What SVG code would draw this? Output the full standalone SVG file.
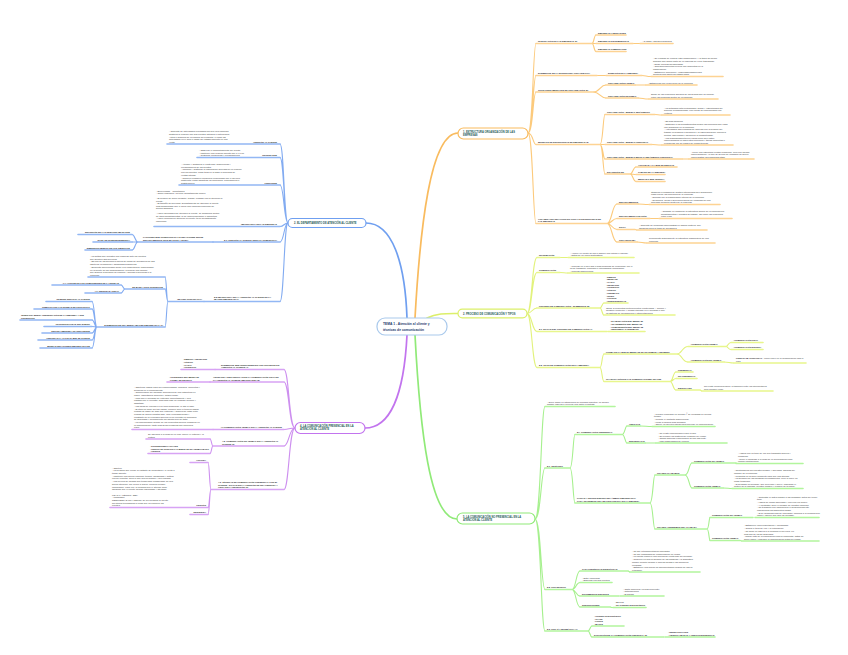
<svg xmlns="http://www.w3.org/2000/svg" width="848" height="655" viewBox="0 0 848 655">
<style>
text{font-family:"Liberation Sans",Arial,sans-serif}
.l{font-size:2.15px;font-weight:bold;fill:#1a1a1a}
.d{font-size:2.3px;fill:#3a3a3a}
.n{font-size:2.6px;font-weight:bold;fill:#1e5a55}
.c{font-size:3.3px;font-weight:bold;fill:#1d3a6b}
.e{text-anchor:end}
.uo,.uy,.ug,.ub,.up{fill:none;stroke-width:1.6;stroke-linecap:round}
.uo{stroke:#fdd393}.uy{stroke:#e8f68c}.ug{stroke:#b2f59d}.ub{stroke:#92b7f4}.up{stroke:#d7a3f4}
.co,.cy,.cg,.cb,.cp{fill:none;stroke-width:1.1}
.co{stroke:#fcca7c}.cy{stroke:#e2f27c}.cg{stroke:#a6f08e}.cb{stroke:#82abf1}.cp{stroke:#cd8fef}
.m{fill:none;stroke-width:1.7;stroke-linecap:round}
</style>

<g id="connectors">
<path class="m" stroke="#6f9ff0" d="M407,318 C405,262 392,223 366,223"/>
<path class="m" stroke="#f9bb5e" d="M415,318 C420,230 430,133 458,133"/>
<path class="m" stroke="#dcef6a" d="M427,318 C437,313 447,313.5 458,313.5"/>
<path class="m" stroke="#c274ee" d="M407,335 C404,395 390,428 365,428"/>
<path class="m" stroke="#90ea78" d="M415,335 C420,430 430,519 457,519"/>

<path class="co" stroke-width="1.4" d="M528,133 C533,133 533,43.5 536,43.5 M528,133 C533,133 533,75.5 536,75.5 M528,133 C533,133 533,92 536,92 M528,133 C533,133 533,144.5 536,144.5 M528,133 C533,133 533,223.5 536,223.5"/>
<path class="co" d="M592,43.5 C594,43.5 594,35 596,35 M592,43.5 L596,43.5 M592,43.5 C594,43.5 594,51.5 596,51.5 M633,43.5 L640,43.5 M597,75.5 L606,75.5 M642,75.5 C646,75.5 646,76.5 651,76.5 M593,92 C600,92 600,85 606,85 M593,92 C600,92 600,98 606,98 M635,85 L646,85 M638,98 C643,98 643,99 649,99"/>
<path class="co" d="M600,144.5 C603,144.5 603,114.5 605,114.5 M600,144.5 L605,144.5 M600,144.5 C603,144.5 603,159 605,159 M600,144.5 C603,144.5 603,174 605,174 M655,114.5 C658,114.5 658,115 662,115 M652,144.5 C656,144.5 656,145 662,145 M682,159 L689,159 M630,174 C633,174 633,167 636,167 M630,174 C633,174 633,174.5 636,174.5 M630,174 C633,174 633,181.5 636,181.5"/>
<path class="co" d="M607,223.5 C612,223.5 612,204 617,204 M607,223.5 C612,223.5 612,218.5 617,218.5 M607,223.5 C612,223.5 612,229.5 617,229.5 M607,223.5 C612,223.5 612,242 617,242 M638,204 C643,204 643,204.5 649,204.5 M650,218.5 L659,218.5 M635,229.5 C636,229.5 636,230 637,230 M637,242 C642,242 642,243 647,243"/>

<path class="cy" stroke-width="1.4" d="M527,313.5 C532,313.5 532,257.5 537,257.5 M527,313.5 C532,313.5 532,272.5 537,272.5 M527,313.5 C532,313.5 532,308 537,308 M527,313.5 C532,313.5 532,331.5 537,331.5 M527,313.5 C532,313.5 532,367.5 537,367.5"/>
<path class="cy" d="M560,257.5 L568,257.5 M560,272.5 C564,272.5 564,273 568,273 M600,308 C602,308 602,303 604,303 M600,308 C602,308 602,315 604,315 M600,367.5 C602,367.5 602,354 604,354 M600,367.5 C602,367.5 602,381.5 604,381.5 M677,354 C682,354 682,346.5 688,346.5 M677,354 C682,354 682,362 688,362 M726,346.5 C728,346.5 728,342.5 731,342.5 M726,346.5 C728,346.5 728,349.5 731,349.5 M724,362 C729,362 729,363 734,363 M670,381.5 C673,381.5 673,372 676,372 M670,381.5 C673,381.5 673,378.5 676,378.5 M670,381.5 C673,381.5 673,390 676,390 M700,390 C701,390 701,391 702,391"/>

<path class="cg" stroke-width="1.4" d="M535,519 C541,519 541,406.5 545,406.5 M535,519 C541,519 541,468 545,468 M535,519 C541,519 541,589.5 545,589.5 M535,519 C541,519 541,631 545,631"/>
<path class="cg" d="M570,468 C573,468 573,434.5 575,434.5 M570,468 C573,468 573,503 575,503 M622,434.5 C625,434.5 625,426 627,426 M622,434.5 C625,434.5 625,443 627,443 M640,426 C646,426 646,426.5 652,426.5 M645,443 L656,443 M650,503 C653,503 653,475 655,475 M650,503 C653,503 653,529 655,529 M685,475 C689,475 689,463 692,463 M685,475 C689,475 689,488 692,488 M723,488 C728,488 728,488.5 732,488.5 M707,529 C709,529 709,517.5 710,517.5 M707,529 C709,529 709,540.5 710,540.5 M740,540.5 C741,540.5 741,541 742,541"/>
<path class="cg" d="M572,589.5 C576,589.5 576,571 580,571 M572,589.5 C576,589.5 576,582.5 580,582.5 M572,589.5 C576,589.5 576,596 580,596 M572,589.5 C576,589.5 576,607 580,607 M628,571 C629,571 629,572 630,572 M618,596 L621,596 M610,607 C611,607 611,607.5 613,607.5 M588,631 C590,631 590,626 592,626 M588,631 C590,631 590,637 592,637 M663,637 L666,637"/>

<path class="cb" stroke-width="1.4" d="M288,223 C284,223 284,144 280,144 M288,223 C284,223 284,157.5 280,157.5 M288,223 C284,223 284,185 280,185 M288,223 C284,223 284,226.5 280,226.5 M288,223 C284,223 284,242 280,242 M288,223 C284,223 284,301.5 280,301.5"/>
<path class="cb" d="M138,242 C135,242 135,234.5 132,234.5 M138,242 L132,242 M138,242 C135,242 135,250 132,250 M168,301.5 C166.5,301.5 166.5,277 165,277 M168,301.5 C166.5,301.5 166.5,289 165,289 M168,301.5 C166.5,301.5 166.5,327 165,327 M125,289 C123,289 123,285 121,285 M125,289 C123,289 123,293 121,293"/>
<path class="cb" d="M97,327 C94.5,327 94.5,301.5 92,301.5 M97,327 C94.5,327 94.5,309 92,309 M97,327 C94.5,327 94.5,320 92,320 M97,327 C94.5,327 94.5,326.5 92,326.5 M97,327 C94.5,327 94.5,333 92,333 M97,327 C94.5,327 94.5,340 92,340 M97,327 C94.5,327 94.5,348 92,348"/>

<path class="cp" stroke-width="1.4" d="M295,428 C289,428 289,369.5 284,369.5 M295,428 C289,428 289,382 284,382 M295,428 C289,428 289,429.5 284,429.5 M295,428 C289,428 289,446 284,446 M295,428 C289,428 289,489.5 284,489.5"/>
<path class="cp" d="M213,446 C211.5,446 211.5,439 210,439 M213,446 C211.5,446 211.5,453.5 210,453.5 M211,489.5 C209.5,489.5 209.5,462.5 208,462.5 M211,489.5 C209.5,489.5 209.5,507.5 208,507.5 M211,489.5 C209.5,489.5 209.5,514.5 208,514.5"/>
</g>

<g id="center">
<rect x="377" y="318" width="70" height="17" rx="8" fill="#fff" stroke="#a9c9ec" stroke-width="1.2"/>
<text class="c" x="383" y="325.3">TEMA 1 - Atención al cliente y</text>
<text class="c" x="383" y="330.6">técnicas de comunicación</text>
</g>

<!-- Branch 1 orange -->
<g id="b1">
<rect x="458" y="128" width="70" height="11" rx="5.5" fill="#fff" stroke="#f9bb5e" stroke-width="1.2"/>
<text class="n" x="463" y="132.6">1. ESTRUCTURA ORGANIZACIÓN DE LAS</text>
<text class="n" x="463" y="135.8">EMPRESAS</text>
</g>
<g id="b1-integracion"><path class="uo" d="M536 43.5H592"/><text class="l" x="538" y="42.4">INTEGRACIÓN DE LAS EMPRESAS (3)</text></g>
<g id="b1-fabricantes"><path class="uo" d="M596 35H626"/><text class="l" x="598" y="33.9">EMPRESAS FABRICANTES</text></g>
<g id="b1-distribuidoras"><path class="uo" d="M596 43.5H633"/><text class="l" x="598" y="42.4">EMPRESAS DISTRIBUIDORAS</text></g>
<g id="b1-cadena"><path class="uo" d="M640 43.5H673"/><text class="d" x="642" y="42.4">- CADENA DE SUMINISTRO</text></g>
<g id="b1-comerciales"><path class="uo" d="M596 51.5H626"/><text class="l" x="598" y="50.4">EMPRESAS COMERCIALES</text></g>
<g id="b1-elementos"><path class="uo" d="M536 75.5H597"/><text class="l" x="538" y="74.4">ELEMENTOS DE LA ESTRUCTURA ORGANIZATIVA</text></g>
<g id="b1-direccion"><path class="uo" d="M606 75.5H642"/><text class="l" x="608" y="74.4">DIRECCIÓN DE LA EMPRESA</text></g>
<g id="b1-direccion-d"><path class="uo" d="M651 76.5H723"/><text class="d" y="59.2"><tspan x="653">- Se encarga de realizar esta organización, y la toma del grupo</tspan><tspan x="653" dy="2.7">humano que forma parte de la empresa se viene trabajando.</tspan><tspan x="653" dy="2.7">- Dirige fuerzas mecanizadas.</tspan><tspan x="653" dy="2.7">- Coordina diferentes niveles con aumentos en la</tspan><tspan x="653" dy="2.7">organización.</tspan><tspan x="653" dy="2.7">- Establecer funciones y responsabilidades para</tspan><tspan x="653" dy="2.7">alcanzar sus objetivos establecidos.</tspan></text></g>
<g id="b1-tipos"><path class="uo" d="M536 92H593"/><text class="l" x="538" y="90.9">TIPOS FUNDAMENTALES DE ORGANIZACIÓN (2)</text></g>
<g id="b1-formal"><path class="uo" d="M606 85H635"/><text class="l" x="608" y="83.9">ORGANIZACIÓN FORMAL</text></g>
<g id="b1-formal-d"><path class="uo" d="M646 85H697"/><text class="d" x="648" y="83.9">- Establecida por la dirección de la empresa</text></g>
<g id="b1-informal"><path class="uo" d="M606 98H638"/><text class="l" x="608" y="96.9">ORGANIZACIÓN INFORMAL</text></g>
<g id="b1-informal-d"><path class="uo" d="M649 99H718"/><text class="d" y="95.2"><tspan x="651">Surge de las relaciones sociales de los grupos que se forman</tspan><tspan x="651" dy="2.7">entre las personas dentro de la empresa</tspan></text></g>
<g id="b1-modelos"><path class="uo" d="M536 144.5H600"/><text class="l" x="538" y="143.4">MODELOS DE ESTRUCTURAS DE EMPRESAS (3)</text></g>
<g id="b1-jerarquico"><path class="uo" d="M605 114.5H655"/><text class="l" x="607" y="113.4">ORGANIZACIÓN - MODELO JERÁRQUICO</text></g>
<g id="b1-jerarquico-d"><path class="uo" d="M662 115H730"/><text class="d" y="108.5"><tspan x="664">- La autoridad está centralizada, desde y estructurada del</tspan><tspan x="664" dy="2.7">superior al subordinado, con líneas de comunicación por</tspan><tspan x="664" dy="2.7">vértices</tspan></text></g>
<g id="b1-funcional"><path class="uo" d="M605 144.5H652"/><text class="l" x="607" y="143.4">ORGANIZACIÓN - MODELO FUNCIONAL</text></g>
<g id="b1-funcional-d"><path class="uo" d="M662 145H733"/><text class="d" y="122.3"><tspan x="664">- Es más moderna</tspan><tspan x="664" dy="2.7">- Distingue a los departamentos según las funciones que cada</tspan><tspan x="664" dy="2.7">uno desarrolla en la empresa.</tspan><tspan x="664" dy="2.7">- Actividades diferenciadas de acuerdo con la división del</tspan><tspan x="664" dy="2.7">trabajo en bloques o funciones y la especialización: mayores</tspan><tspan x="664" dy="2.7">peritos, diferencias y mejora de la productividad.</tspan><tspan x="664" dy="2.7">- Los subordinados tienen varios jefes (que están</tspan><tspan x="664" dy="2.7">especializados en diferentes funciones y tareas concretas o</tspan><tspan x="664" dy="2.7">exclusivas) por su campo de competencias.</tspan></text></g>
<g id="b1-mixto"><path class="uo" d="M605 159H682"/><text class="l" x="607" y="157.9">ORGANIZACIÓN - MODELO MIXTO O JERÁRQUICO-FUNCIONAL</text></g>
<g id="b1-mixto-d"><path class="uo" d="M689 159H754"/><text class="d" y="152.5"><tspan x="691">- Tiene una estructura central jerárquica, pero con mucha</tspan><tspan x="691" dy="2.7">especialización, ya que se servirá de unidades de apoyo</tspan><tspan x="691" dy="2.7">especialistas (denominados staff)</tspan></text></g>
<g id="b1-enfuncion"><path class="uo" d="M605 174H630"/><text class="l" x="607" y="172.9">EN FUNCIÓN DE</text></g>
<g id="b1-actividad"><path class="uo" d="M636 167H677"/><text class="l" x="638" y="165.9">ACTIVIDAD A LA QUE SE DEDICAN</text></g>
<g id="b1-tamano"><path class="uo" d="M636 174.5H665"/><text class="l" x="638" y="173.4">TAMAÑO DE LA EMPRESA</text></g>
<g id="b1-mercado"><path class="uo" d="M636 181.5H665"/><text class="l" x="638" y="180.4">MERCADO QUE PERSIGA</text></g>
<g id="b1-vocabulario"><path class="uo" d="M536 223.5H607"/><text class="l" y="219.7"><tspan x="538">VOCABULARIO RELACIONADO CON LAS ESTRUCTURAS DE</tspan><tspan x="538" dy="2.7">LAS EMPRESAS</tspan></text></g>
<g id="b1-departamentos"><path class="uo" d="M617 204H638"/><text class="l" x="619" y="202.9">DEPARTAMENTOS</text></g>
<g id="b1-departamentos-d"><path class="uo" d="M649 204.5H720"/><text class="d" y="192.6"><tspan x="651">Órganos o unidades de gestión intermedios que desarrollan</tspan><tspan x="651" dy="2.7">cada una de las funciones de la empresa.</tspan><tspan x="651" dy="2.7">- Definido por la organización interna de la empresa.</tspan><tspan x="651" dy="2.7">- Divisiones, áreas o secciones donde se encargan de una</tspan><tspan x="651" dy="2.7">actividad concreta dentro de la empresa</tspan></text></g>
<g id="b1-departamentalizacion"><path class="uo" d="M617 218.5H650"/><text class="l" x="619" y="217.4">DEPARTAMENTALIZACIÓN</text></g>
<g id="b1-departamentalizacion-d"><path class="uo" d="M659 218.5H732"/><text class="d" y="212"><tspan x="661">- Consiste en organizar la estructura formal de la empresa por</tspan><tspan x="661" dy="2.7">departamentos y puestos de trabajo, así como las relaciones</tspan><tspan x="661" dy="2.7">entre ellos</tspan></text></g>
<g id="b1-staff"><path class="uo" d="M617 229.5H635"/><text class="l" x="619" y="228.4">STAFF</text></g>
<g id="b1-staff-d"><path class="uo" d="M637 230H707"/><text class="d" y="226.2"><tspan x="639">- Conjunto de personas especialistas en alguna materia, que</tspan><tspan x="639" dy="2.7">asesoran para la toma de decisiones</tspan></text></g>
<g id="b1-organigrama"><path class="uo" d="M617 242H637"/><text class="l" x="619" y="240.9">ORGANIGRAMA</text></g>
<g id="b1-organigrama-d"><path class="uo" d="M647 243H715"/><text class="d" y="239.2"><tspan x="649">Representa gráficamente la estructura organizativa de una</tspan><tspan x="649" dy="2.7">empresa</tspan></text></g>

<!-- Branch 2 yellow -->
<g id="b2">
<rect x="458" y="309.2" width="69" height="8.6" rx="4.3" fill="#fff" stroke="#dcef6a" stroke-width="1.2"/>
<text class="n" x="463" y="314.5">2. PROCESO DE COMUNICACIÓN Y TIPOS</text>
</g>
<g id="b2-informacion"><path class="uy" d="M537 257.5H560"/><text class="l" x="539" y="256.4">INFORMACIÓN</text></g>
<g id="b2-informacion-d"><path class="uy" d="M568 257.5H634"/><text class="d" y="253.7"><tspan x="570">- Acción y/o efecto de dar a alguien una noticia o informe.</tspan><tspan x="570" dy="2.7">- Datos de un único destinatario</tspan></text></g>
<g id="b2-comunicacion"><path class="uy" d="M537 272.5H560"/><text class="l" x="539" y="271.4">COMUNICACIÓN</text></g>
<g id="b2-comunicacion-d"><path class="uy" d="M568 273H639"/><text class="d" y="266.5"><tspan x="570">- Proceso en el que dos o más personas se relacionan, por el</tspan><tspan x="570" dy="2.7">fin de transmitir, compartir o intercambiar información.</tspan><tspan x="570" dy="2.7">- Proceso bidireccional</tspan></text></g>
<g id="b2-proceso"><path class="uy" d="M537 308H600"/><text class="l" x="539" y="306.9">PROCESO DE COMUNICACIÓN - ELEMENTOS (8)</text></g>
<g id="b2-proceso-lista"><path class="uy" d="M604 303H628"/><text class="l" y="277.6"><tspan x="606">- EMISOR</tspan><tspan x="606" dy="2.7">- MENSAJE</tspan><tspan x="606" dy="2.7">- CANAL</tspan><tspan x="606" dy="2.7">- RECEPTOR</tspan><tspan x="606" dy="2.7">- CONTEXTO</tspan><tspan x="606" dy="2.7">- CÓDIGO</tspan><tspan x="606" dy="2.7">- FEEDBACK</tspan><tspan x="606" dy="2.7">- RUIDO</tspan><tspan x="606" dy="2.7">- FILTROS</tspan><tspan x="606" dy="2.7">- INTERFERENCIAS</tspan></text></g>
<g id="b2-proceso-d"><path class="uy" d="M604 315H675"/><text class="d" y="308.5"><tspan x="606">Otros: 3 elementos pertenecientes (contenidos) + sonoro y</tspan><tspan x="606" dy="2.7">acústico (contexto) y código utilizado en el mensaje o que</tspan><tspan x="606" dy="2.7">un sistema de mediaciones e interpretaciones</tspan></text></g>
<g id="b2-etapas"><path class="uy" d="M537 331.5H607"/><text class="l" x="539" y="330.4">2.1. ETAPAS DEL PROCESO DE COMUNICACIÓN (4)</text></g>
<g id="b2-etapas-lista"><path class="uy" d="M608 331.5H645"/><text class="l" y="322.3"><tspan x="610">- ELABORACIÓN DEL MENSAJE</tspan><tspan x="610" dy="2.7">- TRANSMISIÓN DEL MENSAJE</tspan><tspan x="610" dy="2.7">- COMPRENSIÓN DEL MENSAJE</tspan><tspan x="610" dy="2.7">- RESPUESTA O FEEDBACK</tspan></text></g>
<g id="b2-tipos"><path class="uy" d="M537 367.5H600"/><text class="l" x="539" y="366.4">2.2. TIPOS DE COMUNICACIÓN EN LA EMPRESA</text></g>
<g id="b2-forma"><path class="uy" d="M604 354H677"/><text class="l" x="606" y="352.9">FORMA EN LA QUE EL MENSAJE SE TRANSMITE Y RECIBIDO</text></g>
<g id="b2-verbal"><path class="uy" d="M688 346.5H726"/><text class="l" x="690" y="345.4">- COMUNICACIÓN VERBAL</text></g>
<g id="b2-oral"><path class="uy" d="M731 342.5H763"/><text class="l" x="733" y="341.4">- COMUNICACIÓN ORAL</text></g>
<g id="b2-escrita"><path class="uy" d="M731 349.5H763"/><text class="l" x="733" y="348.4">- COMUNICACIÓN ESCRITA</text></g>
<g id="b2-noverbal"><path class="uy" d="M688 362H724"/><text class="l" x="690" y="360.9">- COMUNICACIÓN NO VERBAL</text></g>
<g id="b2-lenguaje"><path class="uy" d="M734 363H806"/><text class="d" y="359.2"><tspan x="736" font-weight="bold" fill="#1a1a1a">LENGUAJE CORPORAL</tspan><tspan> - papel clave en la comunicación cara a</tspan><tspan x="736" dy="2.7">cara</tspan></text></g>
<g id="b2-clasificacion"><path class="uy" d="M604 381.5H670"/><text class="l" x="606" y="380.4">CLASIFICACIÓN DE LAS COMUNICACIONES ORALES</text></g>
<g id="b2-presencial"><path class="uy" d="M676 372H693"/><text class="l" x="678" y="370.9">PRESENCIAL</text></g>
<g id="b2-nopresencial"><path class="uy" d="M676 378.5H697"/><text class="l" x="678" y="377.4">NO PRESENCIAL</text></g>
<g id="b2-especiales"><path class="uy" d="M676 390H700"/><text class="l" x="678" y="388.9">ESPECIALES</text></g>
<g id="b2-especiales-d"><path class="uy" d="M702 391H773"/><text class="d" y="387.2"><tspan x="704">No existe presencia física, ni tampoco entre los interlocutores</tspan><tspan x="704" dy="2.7">pero pueden verse</tspan></text></g>

<!-- Branch 5 green -->
<g id="b5">
<rect x="457" y="513" width="78" height="11" rx="5.5" fill="#fff" stroke="#90ea78" stroke-width="1.2"/>
<text class="n" x="463" y="517.6">5. LA COMUNICACIÓN NO PRESENCIAL EN LA</text>
<text class="n" x="463" y="520.8">ATENCIÓN AL CLIENTE</text>
</g>
<g id="b5-intro"><path class="ug" d="M545 406.5H615"/><text class="d" y="402.7"><tspan x="547">- Suele darse en situaciones de pedidos urgentes, no siendo</tspan><tspan x="547" dy="2.7">posible esperar o reenviar una carta o contrato</tspan></text></g>
<g id="b5-telefono"><path class="ug" d="M545 468H570"/><text class="l" x="547" y="466.9">5.1. TELÉFONO</text></g>
<g id="b5-5a"><path class="ug" d="M575 434.5H622"/><text class="l" x="577" y="433.4">5A. COMUNICACIÓN PRESENCIAL</text></g>
<g id="b5-ventajas"><path class="ug" d="M627 426H640"/><text class="l" x="629" y="424.9">VENTAJAS</text></g>
<g id="b5-ventajas-d"><path class="ug" d="M652 426.5H715"/><text class="d" y="414.6"><tspan x="654">- Pueden realizarse en menos 4º de recibidas en menos</tspan><tspan x="654" dy="2.7">tiempo.</tspan><tspan x="654" dy="2.7">- Permite el contacto bidireccional.</tspan><tspan x="654" dy="2.7">- Llega a lugares más alejados.</tspan><tspan x="654" dy="2.7">- Ofrece un servicio rápido para ponerse en comunicación.</tspan></text></g>
<g id="b5-desventajas"><path class="ug" d="M627 443H645"/><text class="l" x="629" y="441.9">DESVENTAJAS</text></g>
<g id="b5-desventajas-d"><path class="ug" d="M656 443H727"/><text class="d" y="433.8"><tspan x="658">- No existe comunicación cara a cara.</tspan><tspan x="658" dy="2.7">- Se pierden los matices del lenguaje no verbal.</tspan><tspan x="658" dy="2.7">- Causa barreras emocionales de tipo diferente.</tspan><tspan x="658" dy="2.7">- Más posibilidades de errores.</tspan></text></g>
<g id="b5-pautas"><path class="ug" d="M575 503H650"/><text class="l" y="499.2"><tspan x="577">PAUTAS A SEGUIR DENTRO DEL ÁMBITO EMPRESARIAL</tspan><tspan x="577" dy="2.7">PARA TRANSMITIR UNA IMAGEN POSITIVA DE LA EMPRESA</tspan></text></g>
<g id="b5-llamamos"><path class="ug" d="M655 475H685"/><text class="l" x="657" y="473.9">CUANDO LLAMAMOS</text></g>
<g id="b5-llamamos-nv"><path class="ug" d="M692 463H736"/><text class="l" x="694" y="461.9">COMUNICACIÓN NO VERBAL</text></g>
<g id="b5-llamamos-nv-d"><path class="ug" d="M736 463.5H803"/><text class="d" y="454.3"><tspan x="738">- Hablar con un tono de voz que transmita firmeza y</tspan><tspan x="738" dy="2.7">confianza.</tspan><tspan x="738" dy="2.7">- Tener el bolígrafo a lo largo de la conversación para</tspan><tspan x="738" dy="2.7">escribir anotaciones.</tspan></text></g>
<g id="b5-llamamos-v"><path class="ug" d="M692 488H723"/><text class="l" x="694" y="486.9">COMUNICACIÓN VERBAL</text></g>
<g id="b5-llamamos-v-d"><path class="ug" d="M732 488.5H803"/><text class="d" y="471.2"><tspan x="734">- Identificarnos con nuestro nombre y apellidos, además del</tspan><tspan x="734" dy="2.7">nombre de la empresa.</tspan><tspan x="734" dy="2.7">- Preguntar si es buen momento para que nos atienda.</tspan><tspan x="734" dy="2.7">- La duración de las palabras es fundamental, pero la clave es</tspan><tspan x="734" dy="2.7">llegar temprano.</tspan><tspan x="734" dy="2.7">- Si dejamos un mensaje, que sea claro y breve, indicando el</tspan><tspan x="734" dy="2.7">motivo de la llamada, nuestro nombre y número de teléfono.</tspan></text></g>
<g id="b5-atendemos"><path class="ug" d="M655 529H707"/><text class="l" x="657" y="527.9">CUANDO ATENDEMOS UNA LLAMADA</text></g>
<g id="b5-atendemos-nv"><path class="ug" d="M710 517.5H753"/><text class="l" x="712" y="516.4">COMUNICACIÓN NO VERBAL</text></g>
<g id="b5-atendemos-nv-d"><path class="ug" d="M755 517.5H819"/><text class="d" y="497.5"><tspan x="757">- Contestar lo antes posible a las llamadas, antes del tercer</tspan><tspan x="757" dy="2.7">tono.</tspan><tspan x="757" dy="2.7">- Hablar de forma adecuada y con una voz suave.</tspan><tspan x="757" dy="2.7">- Al contestar, decir el nombre de nuestra empresa.</tspan><tspan x="757" dy="2.7">- No transmitir con impaciencia el desconocimiento,</tspan><tspan x="757" dy="2.7">indicaremos los siguientes pasos.</tspan><tspan x="757" dy="2.7">- Si se demanda algo de inmediato, informar a la persona que</tspan><tspan x="757" dy="2.7">llama y ofrecer que deje su mensaje.</tspan></text></g>
<g id="b5-atendemos-v"><path class="ug" d="M710 540.5H740"/><text class="l" x="712" y="539.4">COMUNICACIÓN VERBAL</text></g>
<g id="b5-atendemos-v-d"><path class="ug" d="M742 541H819"/><text class="d" y="526.4"><tspan x="744">- Establecer una presentación y cordialidad.</tspan><tspan x="744" dy="2.7">- Cuidar el tono de voz y la entonación.</tspan><tspan x="744" dy="2.7">- No dejar en espera a la persona en su línea, no</tspan><tspan x="744" dy="2.7">más allá de los 30 segundos.</tspan><tspan x="744" dy="2.7">- Tomar nota de la información para la respuesta, datos de</tspan><tspan x="744" dy="2.7">quien llama y resumen la comunicación antes de colgar.</tspan></text></g>
<g id="b5-escrito"><path class="ug" d="M545 589.5H572"/><text class="l" x="547" y="588.4">5.2. POR ESCRITO</text></g>
<g id="b5-caracteristicas"><path class="ug" d="M580 571H628"/><text class="l" x="582" y="569.9">CARACTERÍSTICAS ESPECÍFICAS</text></g>
<g id="b5-caracteristicas-d"><path class="ug" d="M630 572H700"/><text class="d" y="552"><tspan x="632">- No hay retroalimentación inmediata.</tspan><tspan x="632" dy="2.7">- No hay posibilidad de comunicación no verbal.</tspan><tspan x="632" dy="2.7">- Lo escrito requiere una prueba del contenido del mensaje.</tspan><tspan x="632" dy="2.7">- Requiere un mayor dominio de las palabras y la gramática,</tspan><tspan x="632" dy="2.7">porque permite aclarar o corregir dudas o las opiniones</tspan><tspan x="632" dy="2.7">recibidas.</tspan><tspan x="632" dy="2.7">- Establece una acción de documentación segura de mayor</tspan><tspan x="632" dy="2.7">extensión.</tspan></text></g>
<g id="b5-entre"><path class="ug" d="M580 582.5H612"/><text class="d" y="578.7"><tspan x="582">- Entre empresas</tspan><tspan x="582" dy="2.7">- Empresa con sus clientes</tspan></text></g>
<g id="b5-documentos"><path class="ug" d="M580 596H618"/><text class="l" x="582" y="594.9">DOCUMENTOS ESCRITOS</text></g>
<g id="b5-documentos-lista"><path class="ug" d="M621 596H664"/><text class="d" y="589.5"><tspan x="623">- Carta comercial (la más frecuente)</tspan><tspan x="623" dy="2.7">- Notificaciones</tspan><tspan x="623" dy="2.7">- El saluda</tspan></text></g>
<g id="b5-sustituciones"><path class="ug" d="M580 607H610"/><text class="l" x="582" y="605.9">SUSTITUCIONES</text></g>
<g id="b5-sustituciones-lista"><path class="ug" d="M613 607.5H646"/><text class="l" y="603.2"><tspan x="615">- EL FAX</tspan><tspan x="615" dy="2.7">- EL CORREO ELECTRÓNICO</tspan></text></g>
<g id="b5-telematica"><path class="ug" d="M545 631H588"/><text class="l" x="547" y="629.9">5.3. POR VÍA TELEMÁTICA (4)</text></g>
<g id="b5-telematica-lista"><path class="ug" d="M592 626H624"/><text class="l" y="616.8"><tspan x="594">- CORREO ELECTRÓNICO</tspan><tspan x="594" dy="2.7">- CHATS</tspan><tspan x="594" dy="2.7">- FOROS</tspan><tspan x="594" dy="2.7">- BLOGS</tspan></text></g>
<g id="b5-evolucion"><path class="ug" d="M592 637H663"/><text class="l" x="594" y="635.9">EVOLUCIÓN DE LA COMUNICACIÓN PERSONAL (2)</text></g>
<g id="b5-evolucion-lista"><path class="ug" d="M666 637H715"/><text class="l" y="633.2"><tspan x="668">- REDES SOCIALES</tspan><tspan x="668" dy="2.7">- VIDEOLLAMADAS Y VIDEOCONFERENCIAS</tspan></text></g>

<!-- Branch blue (left) -->
<g id="bb">
<rect x="288" y="218.5" width="78" height="9" rx="4.5" fill="#fff" stroke="#6f9ff0" stroke-width="1.2"/>
<text class="n" x="294" y="224">2. EL DEPARTAMENTO DE ATENCIÓN AL CLIENTE</text>
</g>
<g id="bb-atencion"><path class="ub" d="M167 144H280"/><text class="l e" x="277" y="142.9">ATENCIÓN AL CLIENTE</text><text class="d" y="132.1"><tspan x="169">- Conjunto de actividades realizadas por que una empresa</tspan><tspan x="169" dy="2.7">gestiona la relación con sus clientes actuales o potenciales.</tspan><tspan x="169" dy="2.7">Antes o después de la compra del producto, o como las</tspan><tspan x="169" dy="2.7">actividades en el área o cargo del establecimiento en una</tspan><tspan x="169" dy="2.7">venta.</tspan></text></g>
<g id="bb-prioridades"><path class="ub" d="M197 157.5H280"/><text class="l e" x="277" y="156.4">PRIORIDADES</text><text class="d" y="151"><tspan x="199">- Observar el comportamiento del cliente.</tspan><tspan x="199" dy="2.7">- Mantener una relación directa con él o ella.</tspan><tspan x="199" dy="2.7">- Gestionar incidencias y reclamaciones.</tspan></text></g>
<g id="bb-funciones"><path class="ub" d="M179 185H280"/><text class="l e" x="277" y="183.9">FUNCIONES</text><text class="d" y="165"><tspan x="181">- Atender y gestionar el contenido, sugerencias y</tspan><tspan x="181" dy="2.7">reclamaciones de los clientes.</tspan><tspan x="181" dy="2.7">- Informar y gestionar la información derivada de la relación</tspan><tspan x="181" dy="2.7">con los clientes, como toda en la base a procesos de</tspan><tspan x="181" dy="2.7">ventas futuras.</tspan><tspan x="181" dy="2.7">- Resolver cualquier incidencia relacionada con el servicio</tspan><tspan x="181" dy="2.7">postventa: como garantías, devoluciones, reparaciones o</tspan><tspan x="181" dy="2.7">sustituciones.</tspan></text></g>
<g id="bb-importancia"><path class="ub" d="M154 226.5H280"/><text class="l e" x="277" y="225.4">IMPORTANCIA EN LAS EMPRESAS</text><text class="d" y="191.7"><tspan x="156">- Bienvenidas = importancia</tspan><tspan x="156" dy="2.5">- Cómo rescribirlo: no tiene departamento propio</tspan><tspan x="156" dy="5">- El número de quien consulte. Rango, cuidado con la atención al</tspan><tspan x="156" dy="2.5">cliente.</tspan><tspan x="156" dy="2.5">- El tamaño de servicios. Departamento de atención al cliente</tspan><tspan x="156" dy="2.5">más desarrollado que le fuera una empresa comercial de</tspan><tspan x="156" dy="2.5">bienes tangibles.</tspan><tspan x="156" dy="5">- Hacer secundaria de atención al cliente, se desarrolla dentro</tspan><tspan x="156" dy="2.5">de otros departamentos, sí de comercialización o marketing.</tspan><tspan x="156" dy="2.5">- Hacer principal de atención al cliente: tiene departamento</tspan><tspan x="156" dy="2.5">específico.</tspan></text></g>
<g id="bb-ventaja"><path class="ub" d="M213 242H280"/><text class="l e" x="277" y="240.9">2.1 ATENCIÓN AL CLIENTE VENTAJA COMPETITIVA</text></g>
<g id="bb-factores"><path class="ub" d="M138 242H213"/><text class="l" y="238.2"><tspan x="143">FACTORES QUE CONDICIONAN LAS RELACIONES ENTRE</tspan><tspan x="143" dy="2.7">DEPARTAMENTOS (DOS EN TIPOS Y NIVEL)</tspan></text></g>
<g id="bb-definicion"><path class="ub" d="M78 234.5H132"/><text class="l e" x="130" y="233.4">DEFINICIÓN DE LAS RESPONSABILIDADES</text></g>
<g id="bb-nivel"><path class="ub" d="M93 242H132"/><text class="l e" x="130" y="240.9">NIVEL DE INTERDEPENDENCIA</text></g>
<g id="bb-dimension"><path class="ub" d="M85 250H132"/><text class="l e" x="130" y="248.9">DIMENSIONAMIENTO DE LOS OBJETIVOS</text></g>
<g id="bb-imagen"><path class="ub" d="M204 301.5H280"/><text class="l" y="297.7"><tspan x="214">2.2 IMPORTANCIA DE LA ATENCIÓN AL CLIENTE EN LA</tspan><tspan x="214" dy="2.7">IMAGEN EMPRESARIAL</tspan></text></g>
<g id="bb-corporativa"><path class="ub" d="M168 301.5H204"/><text class="l e" x="202" y="300.4">IMAGEN CORPORATIVA</text></g>
<g id="bb-corporativa-d"><path class="ub" d="M88 277H165"/><text class="d" y="257"><tspan x="90">- La actitud que muestra una empresa ante los clientes</tspan><tspan x="90" dy="2.7">que soliciten sus servicios.</tspan><tspan x="90" dy="2.7">- Es una de las funciones claves de forma de decisiones de sus</tspan><tspan x="90" dy="2.7">objetivos, principales y asimilados financieros.</tspan><tspan x="90" dy="2.7">- Elemento diferenciador frente a la competencia, posicionarse</tspan><tspan x="90" dy="2.7">en la mente de los consumidores / Provocar una opinión</tspan><tspan x="90" dy="2.7">que sugiera la decisión de compra y buenas referencias a la</tspan><tspan x="90" dy="2.7">empresa.</tspan></text></g>
<g id="bb-conceptos"><path class="ub" d="M125 289H165"/><text class="l e" x="163" y="287.9">EN BASE A DOS CONCEPTOS</text></g>
<g id="bb-actitud"><path class="ub" d="M52 285H121"/><text class="l e" x="119" y="283.9">- LA ACTITUD DE LOS COMPONENTES DE LA ENTIDAD</text></g>
<g id="bb-identidad"><path class="ub" d="M85 293H121"/><text class="l e" x="119" y="291.9">- LA IDENTIDAD VISUAL</text></g>
<g id="bb-elementos"><path class="ub" d="M97 327H165"/><text class="l e" x="163" y="325.9">ELEMENTOS DE UNA BUENA IMAGEN EMPRESARIAL (7)</text></g>
<g id="bb-e1"><path class="ub" d="M46 301.5H92"/><text class="l e" x="90" y="300.4">UN BUEN SERVICIO AL CLIENTE</text></g>
<g id="bb-e2"><path class="ub" d="M34 309H92"/><text class="l e" x="90" y="307.9">CUMPLIR CON LAS NORMAS DE PROTOCOLO</text></g>
<g id="bb-e3"><path class="ub" d="M20 320H92"/><text class="l" y="316.2"><tspan x="21">TENER UNA BUENA PRESENTACIÓN DE LA EMPRESA Y SUS</tspan><tspan x="21" dy="2.7">PRODUCTOS</tspan></text></g>
<g id="bb-e4"><path class="ub" d="M44 326.5H92"/><text class="l e" x="90" y="325.4">PROFESIONALIDAD DEL DISEÑO</text></g>
<g id="bb-e5"><path class="ub" d="M42 333H92"/><text class="l e" x="90" y="331.9">SER UNA EMPRESA TRANSPARENTE</text></g>
<g id="bb-e6"><path class="ub" d="M38 340H92"/><text class="l e" x="90" y="338.9">ASEGURAR LA CALIDAD QUE SE OFRECE</text></g>
<g id="bb-e7"><path class="ub" d="M40 348H92"/><text class="l e" x="90" y="346.9">BUENAS RELACIONES EMPRESARIALES</text></g>

<!-- Branch purple (left) -->
<g id="bp">
<rect x="295" y="422.5" width="70" height="11" rx="5.5" fill="#fff" stroke="#c274ee" stroke-width="1.2"/>
<text class="n" x="300" y="427.1">4. LA COMUNICACIÓN PRESENCIAL EN LA</text>
<text class="n" x="300" y="430.3">ATENCIÓN AL CLIENTE</text>
</g>
<g id="bp-elementos"><path class="up" d="M215 369.5H284"/><text class="l" y="365.7"><tspan x="221">ELEMENTOS QUE INTERVIENEN EN LOS PROCESOS DE</tspan><tspan x="221" dy="2.7">ATENCIÓN AL CLIENTE (4)</tspan></text></g>
<g id="bp-elementos-lista"><path class="up" d="M181 369.5H215"/><text class="l" y="360.3"><tspan x="183">- EMISOR Y RECEPTOR</tspan><tspan x="183" dy="2.7">- CÓDIGO</tspan><tspan x="183" dy="2.7">- CANAL</tspan><tspan x="183" dy="2.7">- CONTEXTO</tspan></text></g>
<g id="bp-aspectos"><path class="up" d="M210 382H284"/><text class="l" y="378.2"><tspan x="213">ASPECTOS A DESARROLLAR EN LA COMUNICACIÓN ORAL EN</tspan><tspan x="213" dy="2.7">LA ATENCIÓN AL CLIENTE (IMPORTANTE) (2)</tspan></text></g>
<g id="bp-aspectos-lista"><path class="up" d="M167 382H210"/><text class="l" y="378.2"><tspan x="169">- CONTENIDO DEL MENSAJE</tspan><tspan x="169" dy="2.7">- FORMA DE DECIRLO</tspan></text></g>
<g id="bp-verbal"><path class="up" d="M213 429.5H284"/><text class="l e" x="282" y="428.4">4.1 COMUNICACIÓN VERBAL EN LA ATENCIÓN AL CLIENTE</text></g>
<g id="bp-verbal-d"><path class="up" d="M132 429.5H213"/><text class="d" y="387.9"><tspan x="134">- Objetivos: hablar para ser comprendidos, formales, concretos y</tspan><tspan x="134" dy="2.7">sencillos en el conocimiento.</tspan><tspan x="134" dy="2.7">- Comprensión del mensaje dependerá de una estructura en</tspan><tspan x="134" dy="2.7">orden, importancia concreta y detalle fluido.</tspan><tspan x="134" dy="2.7">- Para que el mensaje se entregue correctamente y sea</tspan><tspan x="134" dy="2.7">captado por el receptor, debemos usar un lenguaje sencillo y</tspan><tspan x="134" dy="2.7">adaptado.</tspan><tspan x="134" dy="2.7">- Las ideas se reflejan en un tono moderado, ni alto ni bajo.</tspan><tspan x="134" dy="2.7">- El ritmo no debe ser tan rápido, conocer bien el tema al hablar</tspan><tspan x="134" dy="2.7">cuando se hable de algo que entiende y debería de estar lento</tspan><tspan x="134" dy="2.7">cuando se quiera resaltar algo. Una velocidad media y</tspan><tspan x="134" dy="2.7">constante de la expresión genera en un receptor la impresión</tspan><tspan x="134" dy="2.7">de seguridad y conocimiento del asunto que se trata.</tspan><tspan x="134" dy="2.7">- La comunicación acorde de los elementos genera confianza en</tspan><tspan x="134" dy="2.7">la comunicación, tanto más serán personas con influencia</tspan><tspan x="134" dy="2.7">clave.</tspan></text></g>
<g id="bp-noverbal"><path class="up" d="M213 446H284"/><text class="l" y="442.2"><tspan x="222">4.2. COMUNICACIÓN NO VERBAL EN LA ATENCIÓN AL</tspan><tspan x="222" dy="2.7">CLIENTE (3)</tspan></text></g>
<g id="bp-noverbal-d"><path class="up" d="M146 439H210"/><text class="d" y="435.2"><tspan x="148">Se asemeja a lo largo de la vida, influye el entorno y la</tspan><tspan x="148" dy="2.7">cultura</tspan></text></g>
<g id="bp-noverbal-lista"><path class="up" d="M148 453.5H210"/><text class="l" y="447"><tspan x="150">- EXPRESIONES FACIALES</tspan><tspan x="150" dy="2.7">- LENGUAJE CORPORAL O MENSAJE NO VERBALIZADO</tspan><tspan x="150" dy="2.7">- GESTOS</tspan></text></g>
<g id="bp-tecnicas"><path class="up" d="M211 489.5H284"/><text class="l" y="483"><tspan x="218">4.3. TÉCNICAS DE COMUNICACIÓN PRESENCIAL CON EL</tspan><tspan x="218" dy="2.7">CLIENTE - ETAPAS EN LA ATENCIÓN DE UNA PERSONA Y</tspan><tspan x="218" dy="2.7">VISITA EN LA RECEPCIÓN (3)</tspan></text></g>
<g id="bp-acogida"><path class="up" d="M190 462.5H208"/><text class="l e" x="206" y="461.4">ACOGIDA</text></g>
<g id="bp-gestion"><path class="up" d="M110 507.5H208"/><text class="l e" x="206" y="506.4">GESTIÓN</text><text class="d" y="468.6"><tspan x="112">- Objetivo</tspan><tspan x="112" dy="2.7">- La persona que recibe al visitante se presentará y le invita a</tspan><tspan x="112" dy="2.7">tomar asiento.</tspan><tspan x="112" dy="2.7">- Mantener una buena escucha, tiempo, amabilidad y actitud</tspan><tspan x="112" dy="2.7">con su receptor, decir lo que sea necesario y con claridad.</tspan><tspan x="112" dy="2.7">- Los niveles de calidad que tendremos (amabilidad) de una</tspan><tspan x="112" dy="2.7">buena atención, por la que a mayor, puedes recoger</tspan><tspan x="112" dy="2.7">información. Para ello, la persona que le atiende debe</tspan><tspan x="112" dy="2.7">asegurar que el cliente ha sido escuchado y atendido.</tspan><tspan x="112" dy="5.4">USAR LA TÉCNICA DEL:</tspan><tspan x="112" dy="2.7">- Parafraseo</tspan><tspan x="112" dy="2.7">RESPUESTAS MUY NEUTRAS: del personal al cliente.</tspan><tspan x="112" dy="2.7">No utilizar tecnicismos ni jerga que no conocen los</tspan><tspan x="112" dy="2.7">clientes.</tspan></text></g>
<g id="bp-despedida"><path class="up" d="M190 514.5H208"/><text class="l e" x="206" y="513.4">DESPEDIDA</text></g>
</svg>
